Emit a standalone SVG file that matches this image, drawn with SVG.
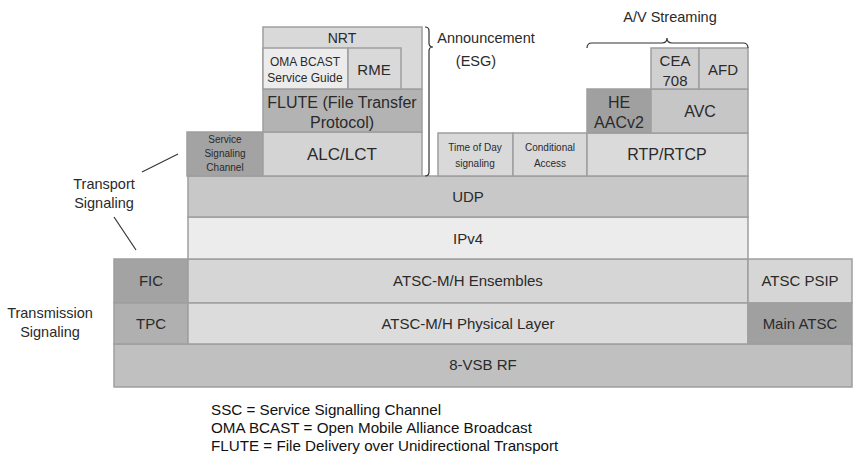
<svg xmlns="http://www.w3.org/2000/svg" width="853" height="473" viewBox="0 0 853 473">
<style>
  .b { stroke: #9e9e9e; stroke-width: 1.5; }
  text { font-family: "Liberation Sans", Arial, sans-serif; fill: #2a2a2a; text-anchor: middle; }
  .t17 { font-size: 17px; }
  .t16 { font-size: 16px; }
  .t15 { font-size: 15px; }
  .t14 { font-size: 14px; }
  .t12 { font-size: 12px; }
  .t10 { font-size: 10px; }
  .lbl { font-size: 14.5px; }
  .leg { font-size: 15.2px; text-anchor: start; fill: #111; }
  .ln { fill: none; stroke: #333; stroke-width: 1.2; }
</style>
<rect width="853" height="473" fill="#ffffff"/>

<g id="vsb"><rect class="b" x="114" y="344" width="738" height="43" fill="#c0c0c0"/><text class="t15" x="483" y="370">8-VSB RF</text></g>
<g id="fic"><rect class="b" x="114" y="259" width="74" height="44" fill="#a3a3a3"/><text class="t15" x="151" y="286">FIC</text></g>
<g id="tpc"><rect class="b" x="114" y="303" width="74" height="41" fill="#b0b0b0"/><text class="t15" x="151" y="329">TPC</text></g>
<g id="ensembles"><rect class="b" x="188" y="259" width="560" height="44" fill="#d6d6d6"/><text class="t15" x="468" y="286">ATSC-M/H Ensembles</text></g>
<g id="physical"><rect class="b" x="188" y="303" width="560" height="41" fill="#dcdcdc"/><text class="t15" x="468" y="329">ATSC-M/H Physical Layer</text></g>
<g id="psip"><rect class="b" x="748" y="259" width="104" height="44" fill="#d6d6d6"/><text class="t15" x="800" y="286">ATSC PSIP</text></g>
<g id="mainatsc"><rect class="b" x="748" y="303" width="104" height="41" fill="#a0a0a0"/><text class="t15" x="800" y="329">Main ATSC</text></g>
<g id="ipv4"><rect class="b" x="188" y="217" width="560" height="42" fill="#ececec"/><text class="t15" x="468" y="244">IPv4</text></g>
<g id="udp"><rect class="b" x="188" y="176" width="560" height="41" fill="#c8c8c8"/><text class="t15" x="468" y="202">UDP</text></g>

<g id="ssc"><rect class="b" x="187" y="132" width="76" height="44" fill="#a3a3a3"/><text class="t10" x="225" y="143">Service</text><text class="t10" x="225" y="157">Signaling</text><text class="t10" x="225" y="171">Channel</text></g>
<g id="alclct"><rect class="b" x="263" y="132" width="159" height="44" fill="#d4d4d4"/><text class="t17" x="342" y="160">ALC/LCT</text></g>
<g id="flute"><rect class="b" x="263" y="89" width="159" height="43" fill="#b3b3b3"/><text class="t16" x="342" y="108">FLUTE (File Transfer</text><text class="t16" x="342" y="128">Protocol)</text></g>
<g id="nrt"><rect class="b" x="263" y="27" width="159" height="62" fill="#d9d9d9"/><text class="t14" x="342" y="43">NRT</text></g>
<g id="omabcast"><rect class="b" x="263" y="48" width="85" height="41" fill="#ececec"/><text class="t12" x="305" y="66">OMA BCAST</text><text class="t12" x="305" y="82">Service Guide</text></g>
<g id="rme"><rect class="b" x="348" y="48" width="53" height="41" fill="#d9d9d9"/><text class="t15" x="374" y="75">RME</text></g>

<g id="timeofday"><rect class="b" x="438" y="133" width="75" height="43" fill="#d9d9d9"/><text class="t10" x="475" y="151">Time of Day</text><text class="t10" x="475" y="167">signaling</text></g>
<g id="conditional"><rect class="b" x="513" y="133" width="74" height="43" fill="#d9d9d9"/><text class="t10" x="550" y="151">Conditional</text><text class="t10" x="550" y="167">Access</text></g>
<g id="rtp"><rect class="b" x="587" y="133" width="161" height="43" fill="#dadada"/><text class="t16" x="667" y="160">RTP/RTCP</text></g>
<g id="heaac"><rect class="b" x="587" y="89" width="64" height="44" fill="#a0a0a0"/><text class="t16" x="619" y="108">HE</text><text class="t16" x="619" y="128">AACv2</text></g>
<g id="avc"><rect class="b" x="651" y="89" width="97" height="44" fill="#c6c6c6"/><text class="t16" x="700" y="117">AVC</text></g>
<g id="cea"><rect class="b" x="651" y="48" width="48" height="41" fill="#d0d0d0"/><text class="t15" x="675" y="66">CEA</text><text class="t15" x="675" y="86">708</text></g>
<g id="afd"><rect class="b" x="699" y="48" width="49" height="41" fill="#d0d0d0"/><text class="t15" x="723" y="75">AFD</text></g>

<g id="announcement"><text class="lbl" x="486" y="43">Announcement</text><text class="lbl" x="476" y="66">(ESG)</text></g>
<g id="avstreaming"><text class="lbl" x="670" y="22">A/V Streaming</text></g>
<g id="transport"><text class="lbl" x="104" y="189">Transport</text><text class="lbl" x="104" y="208">Signaling</text></g>
<g id="transmission"><text class="lbl" x="50" y="318">Transmission</text><text class="lbl" x="50" y="337">Signaling</text></g>

<g id="connectors">
  <path class="ln" d="M142,172 L178,154"/>
  <path class="ln" d="M114,217 L136,250"/>
  <path class="ln" d="M425,27 Q429,27 429,31 L429,43 Q429,47 433,47 Q429,47 429,51 L429,172 Q429,176 425,176"/>
  <path class="ln" d="M587,48 Q587,43 592,43 L662,43 Q667,43 667,38 Q667,43 672,43 L743,43 Q748,43 748,48"/>
</g>

<g id="legend">
  <text class="leg" x="211" y="415">SSC = Service Signalling Channel</text>
  <text class="leg" x="211" y="433">OMA BCAST = Open Mobile Alliance Broadcast</text>
  <text class="leg" x="211" y="451">FLUTE = File Delivery over Unidirectional Transport</text>
</g>
</svg>
